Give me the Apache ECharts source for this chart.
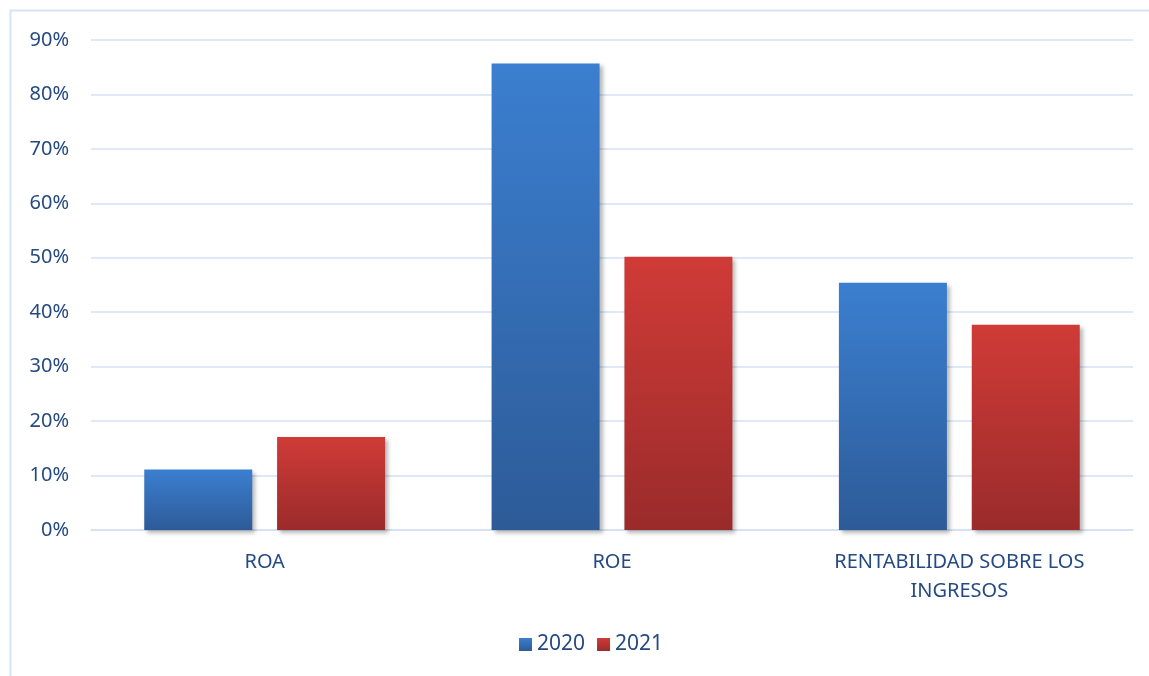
<!DOCTYPE html>
<html>
<head>
<meta charset="utf-8">
<script src="https://cdn.jsdelivr.net/npm/echarts@6/dist/echarts.min.js"></script>
<style>
html,body{margin:0;padding:0;background:#fff;}
#c{width:1149px;height:676px;}
</style>
</head>
<body>
<div id="c"></div>
<script>
const categories = ['ROA', 'ROE', 'RENTABILIDAD SOBRE LOS\nINGRESOS'];
const seriesNames = ['2020', '2021'];
const values2020 = [11.1, 85.7, 45.4];
const values2021 = [17.1, 50.2, 37.7];
const yTicks = [0, 10, 20, 30, 40, 50, 60, 70, 80, 90];

const textColor = '#254a82';
const font = 'Noto Sans';
const blueGrad = new echarts.graphic.LinearGradient(0, 0, 0, 1, [
  {offset: 0, color: '#3b7fd0'}, {offset: 1, color: '#2d5b98'}]);
const redGrad = new echarts.graphic.LinearGradient(0, 0, 0, 1, [
  {offset: 0, color: '#d03b37'}, {offset: 1, color: '#9a2b2b'}]);

const chart = echarts.init(document.getElementById('c'));
chart.setOption({
  animation: false,
  backgroundColor: '#fff',
  graphic: [{
    type: 'polyline',
    shape: {points: [[10.5, 676], [10.5, 10.5], [1149, 10.5]]},
    style: {stroke: '#d6e3f4', lineWidth: 2, fill: null},
    silent: true
  }],
  grid: {left: 91, right: 16, top: 40, bottom: 146},
  legend: {
    data: seriesNames,
    top: 634,
    left: 519,
    padding: 0,
    itemWidth: 13,
    itemHeight: 13,
    itemGap: 12,
    icon: 'rect',
    textStyle: {color: textColor, fontSize: 21, fontFamily: font, padding: [0, 0, 0, 0]}
  },
  xAxis: {
    type: 'category',
    data: categories,
    axisLine: {lineStyle: {color: '#d3e0f3', width: 1.5}},
    axisTick: {show: false},
    axisLabel: {color: textColor, fontSize: 20, fontFamily: font, margin: 18, lineHeight: 29, interval: 0}
  },
  yAxis: {
    type: 'value',
    min: 0,
    max: 90,
    interval: 10,
    axisLine: {show: false},
    axisTick: {show: false},
    splitLine: {lineStyle: {color: '#d3e0f3', width: 1.5}},
    axisLabel: {
      color: textColor, fontSize: 20, fontFamily: font, margin: 22,
      formatter: v => (yTicks.indexOf(v) >= 0 ? v + '%' : '')
    }
  },
  series: [
    {
      name: seriesNames[0], type: 'bar', data: values2020,
      barWidth: 108, barGap: '23%',
      itemStyle: {color: blueGrad, shadowColor: 'rgba(0,0,0,0.28)', shadowBlur: 4, shadowOffsetX: 3, shadowOffsetY: 3}
    },
    {
      name: seriesNames[1], type: 'bar', data: values2021,
      barWidth: 108, barGap: '23%',
      itemStyle: {color: redGrad, shadowColor: 'rgba(0,0,0,0.28)', shadowBlur: 4, shadowOffsetX: 3, shadowOffsetY: 3}
    }
  ]
});
</script>
</body>
</html>
